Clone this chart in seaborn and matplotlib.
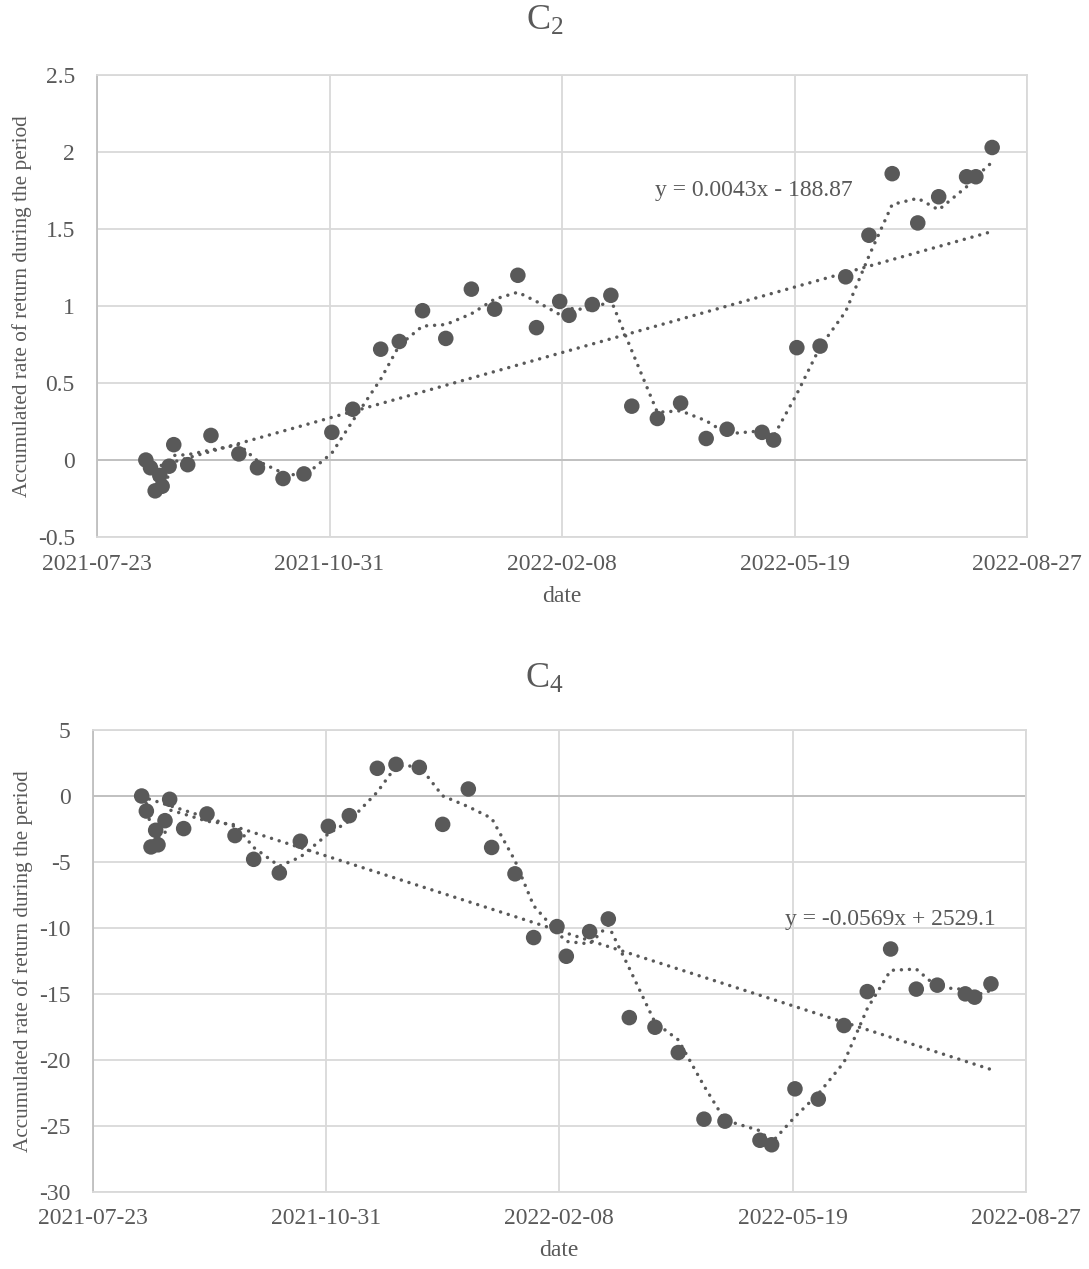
import numpy as np
import pandas as pd
import seaborn as sns
import matplotlib.pyplot as plt
import matplotlib.dates as mdates

# observation dates (shared by both panels)
dates = ['2021-08-13', '2021-08-15', '2021-08-17', '2021-08-19', '2021-08-20',
         '2021-08-23', '2021-08-25', '2021-08-31', '2021-09-10', '2021-09-22',
         '2021-09-30', '2021-10-11', '2021-10-20', '2021-11-01', '2021-11-10',
         '2021-11-22', '2021-11-30', '2021-12-10', '2021-12-20', '2021-12-31',
         '2022-01-10', '2022-01-20', '2022-01-28', '2022-02-07', '2022-02-11',
         '2022-02-21', '2022-03-01', '2022-03-10', '2022-03-21', '2022-03-31',
         '2022-04-11', '2022-04-20', '2022-05-05', '2022-05-10', '2022-05-20',
         '2022-05-30', '2022-06-10', '2022-06-20', '2022-06-30', '2022-07-11',
         '2022-07-20', '2022-08-01', '2022-08-05', '2022-08-12']

c2_values = [0, -0.05, -0.2, -0.1, -0.17, -0.04, 0.10, -0.03, 0.16, 0.04,
             -0.05, -0.12, -0.09, 0.18, 0.33, 0.72, 0.77, 0.97, 0.79, 1.11,
             0.98, 1.20, 0.86, 1.03, 0.94, 1.01, 1.07, 0.35, 0.27, 0.37,
             0.14, 0.20, 0.18, 0.13, 0.73, 0.74, 1.19, 1.46, 1.86, 1.54,
             1.71, 1.84, 1.84, 2.03]

c4_values = [0, -1.14, -3.86, -2.6, -3.7, -1.87, -0.25, -2.47, -1.36, -3.0,
             -4.8, -5.83, -3.43, -2.3, -1.49, 2.1, 2.4, 2.17, -2.15, 0.53,
             -3.9, -5.9, -10.73, -9.9, -12.15, -10.28, -9.32, -16.8, -17.53, -19.45,
             -24.5, -24.65, -26.1, -26.44, -22.2, -22.98, -17.4, -14.83, -11.6, -14.64,
             -14.34, -15.0, -15.25, -14.24]

panels = [
    ('C$_2$', c2_values, 'y = 0.0043x - 188.87', (-0.5, 2.5, 0.5), (0.706, 0.75)),
    ('C$_4$', c4_values, 'y = -0.0569x + 2529.1', (-30, 5, 5), (0.855, 0.59)),
]

sns.set_theme(style='whitegrid')
plt.rcParams['font.family'] = ['Liberation Serif', 'DejaVu Serif']
plt.rcParams['mathtext.fontset'] = 'custom'
plt.rcParams['mathtext.rm'] = 'Liberation Serif'
plt.rcParams['mathtext.it'] = 'Liberation Serif'
plt.rcParams['axes.unicode_minus'] = False

grey = '#595959'
dots = (0, (0.01, 2.3))

fig = plt.figure(figsize=(10.89, 12.69), dpi=100)
axes_pos = [[0.0891, 0.5768, 0.854, 0.364], [0.0851, 0.0609, 0.857, 0.3638]]
title_y = [0.983, 0.465]

x0 = pd.Timestamp('2021-07-23')
x1 = pd.Timestamp('2022-08-27')

for pos, ty, (title, vals, eq, (ymin, ymax, ystep), eqpos) in zip(axes_pos, title_y, panels):
    ax = fig.add_axes(pos)
    df = pd.DataFrame({'date': pd.to_datetime(dates), 'value': vals})
    df['ma'] = df['value'].rolling(2).mean()

    # linear trend
    xn = mdates.date2num(df['date'])
    k, b = np.polyfit(xn, df['value'], 1)
    trend = pd.DataFrame({'date': df['date'].iloc[[0, -1]],
                          'value': k * xn[[0, -1]] + b})

    ax.axhline(0, color='#bfbfbf', lw=1.3, zorder=1)
    sns.lineplot(data=trend, x='date', y='value', ax=ax, color=grey, lw=2.5,
                 linestyle=dots, dash_capstyle='round', zorder=2)
    sns.lineplot(data=df.dropna(), x='date', y='ma', ax=ax, color=grey, lw=2.5,
                 linestyle=dots, dash_capstyle='round', zorder=2)
    sns.scatterplot(data=df, x='date', y='value', ax=ax, color=grey, s=125,
                    edgecolor='none', zorder=3)

    ax.set_xlim(x0, x1)
    ax.set_ylim(ymin, ymax)
    ax.set_xticks(pd.date_range(x0, x1, freq='100D'))
    ax.xaxis.set_major_formatter(mdates.DateFormatter('%Y-%m-%d'))
    ax.set_yticks(np.arange(ymin, ymax + ystep / 2, ystep))
    ax.yaxis.set_major_formatter(plt.FuncFormatter(lambda v, p: f'{v:g}'))
    ax.grid(True, color='#d9d9d9', lw=1.3)
    for side in ['top', 'right', 'bottom']:
        ax.spines[side].set_color('#d9d9d9')
        ax.spines[side].set_linewidth(1.3)
    ax.spines['left'].set_color('#bfbfbf')
    ax.spines['left'].set_linewidth(1.3)
    ax.tick_params(axis='both', length=0, labelsize=17, labelcolor=grey)
    ax.tick_params(axis='x', pad=12)
    ax.tick_params(axis='y', pad=16)
    ax.set_xlabel('date', fontsize=17, color=grey, labelpad=8)
    ax.set_ylabel('Accumulated rate of return during the period', fontsize=15.3,
                  color=grey, labelpad=4)
    ax.text(eqpos[0], eqpos[1], eq, transform=ax.transAxes, fontsize=17,
            color=grey, ha='center', va='center')
    fig.text(0.5, ty, title, fontsize=26, color=grey, ha='center', va='center')

fig.savefig('out.png', dpi=100)
